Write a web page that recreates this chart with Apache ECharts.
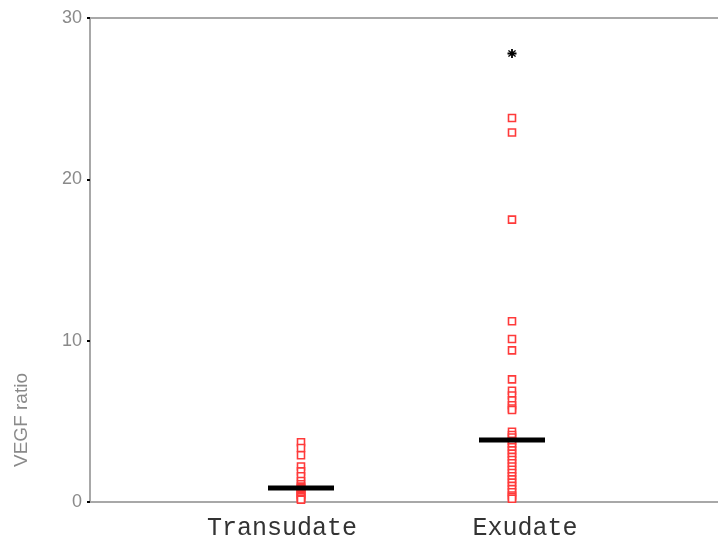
<!DOCTYPE html>
<html>
<head>
<meta charset="utf-8">
<script src="https://cdn.jsdelivr.net/npm/echarts@6/dist/echarts.min.js"></script>
<style>
  html, body { margin: 0; padding: 0; background: #fff; }
  #main { width: 718px; height: 546px; }
</style>
</head>
<body>
<div id="main"></div>
<script>
// 分组
var groups = ['Transudate', 'Exudate'];
var groupPos = [1, 2];
// 各组数值 (VEGF ratio)
var transudateVals = [3.7, 3.35, 2.9, 2.2, 1.9, 1.6, 1.3, 1.1, 0.95, 0.87, 0.8, 0.7, 0.6, 0.5, 0.45, 0.35, 0.3, 0.2, 0.15];
var exudateVals = [23.8, 22.9, 17.5, 11.2, 10.1, 9.4, 7.6, 6.9, 6.6, 6.3, 6.0, 5.8, 5.7, 4.35, 4.15,
    4.0, 3.8, 3.6, 3.4, 3.2, 3.0, 2.8, 2.6, 2.4, 2.2, 2.0, 1.8, 1.6, 1.4, 1.2, 1.0, 0.8, 0.6, 0.4, 0.3, 0.2];
// 离群值
var outliers = [[2, 27.8]];
// 中位数
var medians = [0.87, 3.84];
var yTicks = [0, 10, 20, 30];

var chart = echarts.init(document.getElementById('main'));

var pts = [];
for (let v of transudateVals) pts.push([groupPos[0], v]);
for (let v of exudateVals) pts.push([groupPos[1], v]);
var medPts = medians.map((m, i) => [groupPos[i], m]);

var starPath = 'path://M4,0 L6,0 L6,3 L8.5,1 L9.5,2.2 L7,4 L10,4 L10,6 L7,6 L9.5,7.8 L8.5,9 L6,7 L6,10 L4,10 L4,7 L1.5,9 L0.5,7.8 L3,6 L0,6 L0,4 L3,4 L0.5,2.2 L1.5,1 L4,3 Z';

var option = {
    animation: false,
    grid: {
        left: 90, top: 18, width: 633, height: 484,
        outerBoundsMode: 'none',
        containLabel: false,
        show: true, borderColor: '#a8a8a8', borderWidth: 2
    },
    xAxis: {
        type: 'value', min: 0, max: 3, interval: 1,
        axisLine: { show: true, lineStyle: { color: '#a8a8a8', width: 2 } },
        axisTick: { show: false },
        splitLine: { show: false },
        axisLabel: {
            margin: 14,
            fontFamily: 'Liberation Mono',
            fontSize: 25,
            color: '#333',
            formatter: function (v) {
                if (v === 1) return '{t|' + groups[0] + '}';
                if (v === 2) return '{e|' + groups[1] + '}';
                return '';
            },
            rich: {
                t: { fontFamily: 'Liberation Mono', fontSize: 25, color: '#333', padding: [0, 38, 0, 0] },
                e: { fontFamily: 'Liberation Mono', fontSize: 25, color: '#333', padding: [0, 0, 0, 26] }
            }
        }
    },
    yAxis: {
        type: 'value', min: 0, max: 30, interval: 10,
        axisLine: { show: true, lineStyle: { color: '#a8a8a8', width: 2 } },
        axisTick: { show: true, length: 3, lineStyle: { color: '#000', width: 2 } },
        splitLine: { show: false },
        axisLabel: {
            margin: 8,
            fontFamily: 'Liberation Sans',
            fontSize: 18,
            color: '#8a8a8a',
            formatter: function (v) { return yTicks.indexOf(v) >= 0 ? String(v) : ''; }
        }
    },
    graphic: [{
        type: 'text',
        x: 22, y: 420,
        rotation: Math.PI / 2,
        style: {
            text: 'VEGF ratio',
            fontFamily: 'Liberation Sans',
            fontSize: 19,
            fill: '#8a8a8a',
            textAlign: 'center',
            textVerticalAlign: 'middle'
        }
    }],
    series: [{
        type: 'scatter',
        data: pts,
        symbol: 'rect',
        symbolSize: 7,
        itemStyle: { color: '#fff', borderColor: '#ff3a3a', borderWidth: 1.6, opacity: 1 }
    }, {
        type: 'scatter',
        data: outliers,
        symbol: starPath,
        symbolSize: 9,
        itemStyle: { color: '#000', opacity: 1 }
    }, {
        type: 'scatter',
        data: medPts,
        symbol: 'rect',
        symbolSize: [66, 5],
        z: 5,
        itemStyle: { color: '#000', opacity: 1 }
    }]
};
chart.setOption(option);
</script>
</body>
</html>
